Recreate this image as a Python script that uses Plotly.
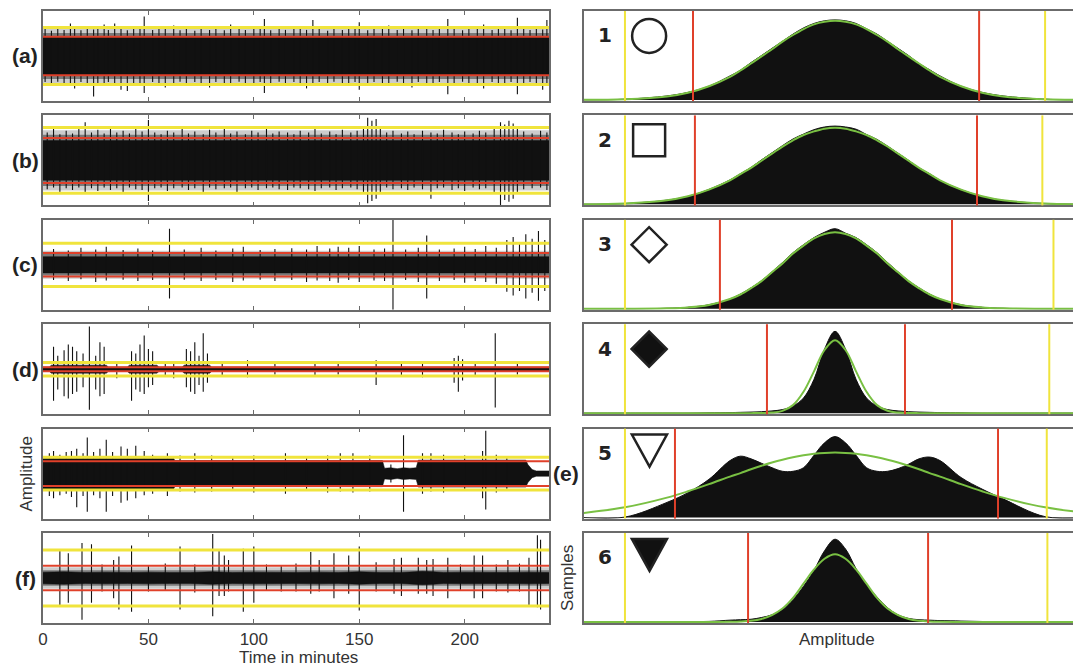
import plotly.graph_objects as go
from plotly.subplots import make_subplots

# ---------------- left column: amplitude traces (normalised, -1..1) ----------------
time_ticks = [0, 50, 100, 150, 200]
panel_letters = ["(a)", "(b)", "(c)", "(d)", "(e)", "(f)"]

red_lvl = [0.43, 0.50, 0.26, 0.045, 0.275, 0.27]
yellow_lvl = [0.635, 0.73, 0.48, 0.15, 0.365, 0.62]
fuzz_inner = [0.51, 0.57, 0.24, None, None, 0.17]
fuzz_outer = [0.61, 0.67, 0.31, None, None, 0.24]

a_band_t = [0, 240]
a_band_hi = [0.42, 0.42]
a_spk_t = [1, 4, 7, 10, 13, 15, 18, 21, 24, 26,
           29, 31, 34, 37, 40, 43, 46, 48, 52, 55,
           58, 62, 65, 68, 72, 75, 79, 82, 86, 89,
           93, 96, 100, 103, 105, 108, 112, 115, 119, 122,
           125, 128, 131, 135, 138, 142, 145, 148, 150, 154,
           157, 161, 164, 168, 171, 175, 178, 182, 185, 188,
           192, 195, 199, 202, 206, 209, 213, 216, 219, 222,
           225, 228, 231, 234, 237, 239]
a_spk_hi = [0.60, 0.56, 0.64, 0.58, 0.72, 0.60, 0.57, 0.66, 0.59, 0.62,
            0.70, 0.58, 0.72, 0.60, 0.57, 0.63, 0.60, 0.88, 0.58, 0.62,
            0.60, 0.68, 0.57, 0.61, 0.56, 0.63, 0.58, 0.60, 0.57, 0.70,
            0.60, 0.58, 0.62, 0.60, 0.82, 0.57, 0.61, 0.58, 0.63, 0.60,
            0.58, 0.80, 0.60, 0.56, 0.62, 0.58, 0.60, 0.64, 0.75, 0.57,
            0.60, 0.62, 0.68, 0.58, 0.60, 0.57, 0.62, 0.60, 0.58, 0.63,
            0.82, 0.60, 0.57, 0.62, 0.60, 0.70, 0.58, 0.60, 0.62, 0.57,
            0.85, 0.60, 0.58, 0.62, 0.59, 0.80]
a_spk_lo = [-0.58, -0.62, -0.57, -0.66, -0.60, -0.72, -0.58, -0.64, -0.90, -0.60,
            -0.62, -0.58, -0.60, -0.75, -0.78, -0.60, -0.62, -0.82, -0.58, -0.64,
            -0.70, -0.60, -0.57, -0.62, -0.58, -0.60, -0.70, -0.58, -0.62, -0.60,
            -0.57, -0.60, -0.62, -0.58, -0.82, -0.60, -0.57, -0.61, -0.58, -0.63,
            -0.72, -0.60, -0.58, -0.62, -0.57, -0.60, -0.64, -0.58, -0.75, -0.60,
            -0.58, -0.62, -0.60, -0.57, -0.63, -0.70, -0.58, -0.60, -0.62, -0.58,
            -0.85, -0.60, -0.57, -0.62, -0.60, -0.72, -0.58, -0.60, -0.63, -0.58,
            -0.85, -0.60, -0.58, -0.62, -0.75, -0.60]

b_band_t = [0, 240]
b_band_hi = [0.44, 0.44]
b_spk_t = [2, 5, 8, 11, 14, 17, 20, 23, 26, 29,
           32, 35, 38, 41, 44, 47, 50, 53, 56, 59,
           62, 66, 69, 72, 76, 79, 82, 86, 89, 92,
           96, 99, 102, 106, 109, 112, 116, 119, 122, 126,
           129, 132, 136, 139, 142, 146, 149, 152, 154, 156,
           158, 160, 163, 166, 170, 173, 176, 180, 184, 187,
           190, 194, 197, 200, 204, 207, 210, 214, 217, 219,
           221, 223, 225, 228, 232, 236, 239]
b_spk_hi = [0.62, 0.70, 0.58, 0.66, 0.60, 0.72, 0.85, 0.62, 0.68, 0.60,
            0.74, 0.62, 0.66, 0.60, 0.70, 0.64, 0.90, 0.62, 0.58, 0.66,
            0.62, 0.70, 0.60, 0.64, 0.58, 0.68, 0.62, 0.72, 0.60, 0.64,
            0.58, 0.66, 0.62, 0.70, 0.60, 0.64, 0.62, 0.58, 0.66, 0.62,
            0.72, 0.60, 0.64, 0.58, 0.68, 0.62, 0.66, 0.70, 0.95, 0.88,
            0.92, 0.74, 0.62, 0.66, 0.60, 0.64, 0.58, 0.66, 0.62, 0.60,
            0.68, 0.62, 0.58, 0.64, 0.60, 0.66, 0.62, 0.70, 0.85, 0.80,
            0.88, 0.82, 0.75, 0.64, 0.60, 0.66, 0.62]
b_spk_lo = [-0.64, -0.60, -0.70, -0.62, -0.66, -0.60, -0.74, -0.62, -0.68, -0.60,
            -0.66, -0.62, -0.72, -0.60, -0.64, -0.66, -0.90, -0.62, -0.60, -0.68,
            -0.62, -0.60, -0.66, -0.62, -0.70, -0.60, -0.64, -0.62, -0.60, -0.72,
            -0.62, -0.60, -0.66, -0.62, -0.60, -0.64, -0.66, -0.60, -0.62, -0.64,
            -0.68, -0.62, -0.60, -0.66, -0.62, -0.60, -0.64, -0.70, -0.95, -0.90,
            -0.85, -0.72, -0.60, -0.64, -0.62, -0.66, -0.60, -0.64, -0.85, -0.62,
            -0.60, -0.66, -0.62, -0.68, -0.60, -0.64, -0.62, -0.70, -1.00, -0.88,
            -0.92, -0.85, -0.74, -0.64, -0.62, -0.60, -0.66]

c_band_t = [0, 240]
c_band_hi = [0.18, 0.18]
c_spk_t = [5, 12, 18, 25, 30, 38, 45, 52, 60, 67,
           75, 82, 90, 95, 103, 110, 118, 125, 130, 136,
           140, 145, 150, 157, 162, 166, 172, 178, 182, 188,
           195, 200, 205, 210, 215, 220, 223, 226, 229, 232,
           235, 238]
c_spk_hi = [0.35, 0.32, 0.38, 0.34, 0.40, 0.33, 0.36, 0.32, 0.80, 0.34,
            0.38, 0.32, 0.36, 0.40, 0.33, 0.35, 0.37, 0.34, 0.42, 0.36,
            0.40, 0.38, 0.42, 0.34, 0.36, 1.00, 0.34, 0.38, 0.65, 0.34,
            0.36, 0.40, 0.35, 0.42, 0.38, 0.55, 0.62, 0.50, 0.68, 0.58,
            0.75, 0.55]
c_spk_lo = [-0.34, -0.36, -0.32, -0.38, -0.35, -0.33, -0.36, -0.34, -0.75, -0.33,
            -0.36, -0.34, -0.38, -0.35, -0.33, -0.36, -0.34, -0.38, -0.35, -0.36,
            -0.40, -0.34, -0.38, -0.35, -0.36, -1.00, -0.34, -0.38, -0.75, -0.36,
            -0.34, -0.40, -0.36, -0.38, -0.42, -0.60, -0.68, -0.58, -0.75, -0.62,
            -0.80, -0.58]

d_band_t = [0, 3, 4, 30, 31, 40, 41, 54, 55, 66, 67, 79, 80, 240]
d_band_hi = [0.05, 0.05, 0.09, 0.09, 0.05, 0.05, 0.09, 0.09, 0.05, 0.05, 0.09, 0.09, 0.05, 0.05]
d_spk_t = [5, 7, 10, 12, 14, 16, 19, 22, 25, 27,
           29, 35, 42, 44, 46, 48, 50, 52, 58, 62,
           68, 70, 72, 74, 76, 78, 85, 97, 110, 129,
           140, 158, 170, 180, 195, 197, 199, 205, 214.5, 225]
d_spk_hi = [0.50, 0.30, 0.42, 0.55, 0.50, 0.40, 0.35, 0.95, 0.30, 0.60,
            0.50, 0.18, 0.40, 0.35, 0.55, 0.75, 0.45, 0.40, 0.15, 0.18,
            0.45, 0.40, 0.60, 0.30, 0.80, 0.35, 0.15, 0.20, 0.12, 0.18,
            0.12, 0.20, 0.15, 0.18, 0.25, 0.30, 0.22, 0.15, 0.80, 0.12]
d_spk_lo = [-0.70, -0.45, -0.60, -0.65, -0.55, -0.50, -0.40, -0.90, -0.45, -0.60,
            -0.55, -0.20, -0.70, -0.45, -0.50, -0.55, -0.40, -0.35, -0.15, -0.20,
            -0.40, -0.50, -0.55, -0.35, -0.50, -0.30, -0.15, -0.18, -0.12, -0.15,
            -0.12, -0.35, -0.15, -0.18, -0.30, -0.50, -0.25, -0.15, -0.85, -0.12]

e_band_t = [0, 62, 62.5, 161, 162, 165, 168, 171, 174, 177, 178, 229, 230, 232, 234, 240]
e_band_hi = [0.34, 0.34, 0.29, 0.29, 0.12, 0.13, 0.11, 0.13, 0.12, 0.13, 0.30, 0.30, 0.20, 0.09, 0.06, 0.06]
e_spk_t = [3, 5, 8, 11, 13.5, 16, 19, 21, 24, 27,
           30, 33, 37, 40, 44, 48, 52, 59, 65, 72,
           80, 90, 100, 115, 125, 135, 141, 147, 155, 165,
           171, 180, 184, 190, 200, 208.5, 210, 215, 220]
e_spk_hi = [0.45, 0.50, 0.42, 0.48, 0.50, 0.55, 0.45, 0.80, 0.48, 0.55,
            0.75, 0.48, 0.60, 0.55, 0.62, 0.50, 0.42, 0.45, 0.40, 0.45,
            0.40, 0.38, 0.40, 0.45, 0.38, 0.40, 0.45, 0.45, 0.40, 0.20,
            0.85, 0.45, 0.45, 0.42, 0.40, 0.50, 0.95, 0.42, 0.38]
e_spk_lo = [-0.50, -0.55, -0.48, -0.45, -0.52, -0.75, -0.50, -0.85, -0.48, -0.55,
            -0.85, -0.50, -0.65, -0.60, -0.55, -0.48, -0.45, -0.50, -0.40, -0.42,
            -0.40, -0.38, -0.42, -0.45, -0.38, -0.42, -0.40, -0.42, -0.40, -0.20,
            -0.85, -0.45, -0.40, -0.42, -0.38, -0.55, -0.80, -0.42, -0.38]

f_band_t = [0, 10, 20, 30, 40, 50, 60, 70, 80, 90, 100, 110, 120, 130, 140, 150, 160, 170,
            180, 185, 190, 200, 210, 220, 230, 240]
f_band_hi = [0.13, 0.14, 0.12, 0.13, 0.12, 0.13, 0.12, 0.12, 0.14, 0.12, 0.13, 0.12, 0.12,
             0.13, 0.12, 0.14, 0.12, 0.12, 0.15, 0.14, 0.12, 0.13, 0.12, 0.12, 0.13, 0.12]
f_spk_t = [8, 12, 18.5, 23, 28, 33.5, 36, 42, 50, 58,
           65, 72, 80.5, 83.5, 86, 88, 95, 100, 106, 113,
           120, 127, 131, 138, 145, 150, 158, 166.5, 170, 178,
           182, 185, 192, 198, 204.5, 208.5, 215, 220.5, 226, 230.5,
           234.5, 236]
f_spk_hi = [0.62, 0.55, 0.78, 0.75, 0.30, 0.40, 0.48, 0.72, 0.28, 0.32,
            0.70, 0.30, 0.98, 0.60, 0.50, 0.40, 0.65, 0.70, 0.30, 0.28,
            0.32, 0.58, 0.40, 0.55, 0.50, 0.70, 0.35, 0.42, 0.45, 0.45,
            0.40, 0.42, 0.45, 0.30, 0.50, 0.50, 0.30, 0.40, 0.32, 0.45,
            0.95, 0.85]
f_spk_lo = [-0.60, -0.55, -0.93, -0.55, -0.30, -0.45, -0.70, -0.75, -0.30, -0.28,
            -0.70, -0.32, -0.85, -0.40, -0.40, -0.30, -0.75, -0.55, -0.28, -0.30,
            -0.30, -0.35, -0.30, -0.45, -0.35, -0.72, -0.30, -0.35, -0.40, -0.35,
            -0.35, -0.40, -0.45, -0.28, -0.45, -0.45, -0.30, -0.32, -0.30, -0.60,
            -0.65, -0.70]

# ---------------- right column: amplitude histograms (relative counts) ----------------
amp = [-1.2, -1.0, -0.8, -0.7, -0.6,
       -0.5, -0.45, -0.4, -0.35, -0.3, -0.25, -0.2, -0.15, -0.1, -0.05, 0.0,
       0.05, 0.1, 0.15, 0.2, 0.25, 0.3, 0.35, 0.4, 0.45, 0.5,
       0.6, 0.7, 0.8, 1.0, 1.2]

hist1 = [.001, .008, .045, .085, .155, .27, .335, .42, .50, .58, .66, .74, .81, .86, .89, .90,
         .89, .86, .80, .74, .66, .58, .50, .41, .34, .27, .155, .085, .045, .008, .001]
fit1 = [.001, .008, .039, .081, .154, .26, .331, .41, .489, .57, .656, .73, .797, .85, .879, .89,
        .879, .85, .797, .73, .656, .57, .489, .41, .331, .26, .154, .081, .039, .008, .001]
hist2 = [.001, .009, .047, .09, .168, .275, .345, .415, .50, .58, .66, .735, .79, .84, .87, .88,
         .87, .845, .785, .73, .655, .575, .495, .41, .345, .27, .165, .09, .045, .009, .001]
fit2 = [.001, .009, .045, .09, .165, .27, .34, .41, .49, .57, .65, .72, .78, .82, .85, .86,
        .85, .82, .78, .72, .65, .57, .49, .41, .34, .27, .165, .09, .045, .009, .001]
hist3 = [0, 0, .005, .016, .045, .11, .165, .235, .315, .415, .52, .63, .72, .80, .86, .90,
         .85, .80, .72, .63, .52, .415, .315, .235, .165, .11, .045, .016, .005, 0, 0]
fit3 = [0, 0, .005, .015, .043, .11, .16, .23, .31, .41, .51, .62, .71, .79, .84, .86,
        .84, .79, .71, .62, .51, .41, .31, .23, .16, .11, .043, .015, .005, 0, 0]
hist4 = [0, 0, 0, 0, .003, .006, .009, .012, .016, .025, .04, .08, .17, .38, .72, .92,
         .72, .38, .17, .08, .04, .025, .016, .012, .009, .006, .003, 0, 0, 0, 0]
fit4 = [0, 0, 0, 0, 0, 0, 0, 0, .001, .006, .026, .09, .24, .47, .71, .82,
        .71, .47, .24, .09, .026, .006, .001, 0, 0, 0, 0, 0, 0, 0, 0]
hist5 = [0, .005, .17, .28, .43, .64, .69, .66, .61, .56, .52, .52, .56, .70, .84, .91,
         .84, .70, .56, .52, .52, .55, .60, .66, .68, .64, .45, .32, .21, .01, 0]
fit5 = [.051, .115, .224, .295, .375, .46, .50, .543, .582, .618, .65, .678, .70, .717, .727, .73,
        .727, .717, .70, .678, .65, .618, .582, .543, .50, .46, .375, .295, .224, .115, .051]
hist6 = [0, 0, 0, .003, .006, .02, .025, .03, .05, .08, .14, .25, .40, .58, .80, .93,
         .82, .60, .42, .28, .16, .08, .04, .025, .02, .015, .01, .005, 0, 0, 0]
fit6 = [0, 0, 0, 0, 0, .002, .005, .013, .033, .077, .15, .27, .43, .59, .71, .76,
        .71, .59, .43, .27, .15, .077, .033, .013, .005, .002, 0, 0, 0, 0, 0]

red_left = [-0.676, -0.667, -0.548, -0.324, -0.762, -0.414]
red_right = [0.686, 0.676, 0.557, 0.333, 0.776, 0.443]
yellow_left = [-1.0, -1.0, -1.0, -1.0, -1.0, -1.0]
yellow_right = [1.0, 0.987, 1.04, 1.02, 1.008, 1.011]

hist_labels = ["1", "2", "3", "4", "5", "6"]
hist_symbols = ["circle-open", "square-open", "diamond-open", "diamond", "tri-open", "tri"]
symbol_sizes = [34, 32, 27, 27, 0, 0]

# ---------------- styling ----------------
FONT = "Liberation Sans, Arial, sans-serif"
BLACK = "#111111"
RED = "#e0402a"
YELLOW = "#f0e43c"
GREEN = "#79c043"
FRAME = "#6b6b6b"

# the page adds an 8px body margin, so the figure is made 8px smaller and shifted
OFF = 8
W, H = 1081 - OFF, 668 - OFF
ML, MR, MT, MB = 43 - OFF, 0, 11 - OFF, 45
PW, PH = W - ML - MR, H - MT - MB
X0, Y1 = 43, 623  # plot area (page pixels): left edge, bottom edge


def axref(n, letter, domain=True):
    s = "%s%s" % (letter, "" if n == 1 else n)
    return s + " domain" if domain else s


def px(xpage):
    return (xpage - X0) / PW


def py(ypage):
    return (Y1 - ypage) / PH


def label(text, xref, yref, x, y, size=17, color="#333333", family=FONT, angle=0):
    fig.add_annotation(text=text, xref=xref, yref=yref, x=x, y=y, xanchor="center",
                       yanchor="middle", textangle=angle, showarrow=False,
                       font=dict(family=family, size=size, color=color))


fig = make_subplots(rows=6, cols=2, column_widths=[506, 497],
                    horizontal_spacing=35 / PW, vertical_spacing=14.4 / PH)

left_panels = [
    (a_band_t, a_band_hi, a_spk_t, a_spk_hi, a_spk_lo),
    (b_band_t, b_band_hi, b_spk_t, b_spk_hi, b_spk_lo),
    (c_band_t, c_band_hi, c_spk_t, c_spk_hi, c_spk_lo),
    (d_band_t, d_band_hi, d_spk_t, d_spk_hi, d_spk_lo),
    (e_band_t, e_band_hi, e_spk_t, e_spk_hi, e_spk_lo),
    (f_band_t, f_band_hi, f_spk_t, f_spk_hi, f_spk_lo),
]
hists = [hist1, hist2, hist3, hist4, hist5, hist6]
fits = [fit1, fit2, fit3, fit4, fit5, fit6]

quiet = dict(showlegend=False, hoverinfo="skip")


def add_band(t, hi, color, row):
    lw = 0.5 if color == BLACK else 0
    fig.add_trace(go.Scatter(x=t, y=[-v for v in hi], mode="lines",
                             line=dict(width=lw, color=color), **quiet), row=row, col=1)
    fig.add_trace(go.Scatter(x=t, y=hi, mode="lines", line=dict(width=lw, color=color),
                             fill="tonexty", fillcolor=color, **quiet), row=row, col=1)


for i, (band_t, band_hi, st, sh, sl) in enumerate(left_panels):
    row = i + 1
    if fuzz_outer[i]:
        add_band([0, 240], [fuzz_outer[i], fuzz_outer[i]], "rgba(0,0,0,0.2)", row)
        add_band([0, 240], [fuzz_inner[i], fuzz_inner[i]], "rgba(0,0,0,0.4)", row)
    add_band(band_t, band_hi, BLACK, row)
    xs, ys = [], []
    for t, hi, lo in zip(st, sh, sl):
        xs += [t, t, None]
        ys += [lo, hi, None]
    fig.add_trace(go.Scatter(x=xs, y=ys, mode="lines", line=dict(color=BLACK, width=1.1),
                             **quiet), row=row, col=1)
    for lvl, col, w in ((yellow_lvl[i], YELLOW, 3), (red_lvl[i], RED, 2)):
        for s in (1, -1):
            fig.add_hline(y=s * lvl, line_color=col, line_width=w, row=row, col=1)

    fig.update_xaxes(row=row, col=1, range=[0, 240], tickvals=time_ticks, ticks="inside",
                     ticklen=4, tickcolor=FRAME, showticklabels=(row == 6),
                     showline=True, linecolor=FRAME, linewidth=1.5, mirror="ticks",
                     showgrid=False, zeroline=False,
                     tickfont=dict(size=17, color="#333333"))
    fig.update_yaxes(row=row, col=1, range=[-1, 1], showticklabels=False, ticks="",
                     showline=True, linecolor=FRAME, linewidth=1.5, mirror=True,
                     showgrid=False, zeroline=False)

for i in range(6):
    row = i + 1
    n = 2 * row
    fig.add_trace(go.Scatter(x=amp, y=hists[i], mode="lines",
                             line=dict(color=BLACK, width=1, shape="spline"),
                             fill="tozeroy", fillcolor=BLACK, **quiet), row=row, col=2)
    fig.add_trace(go.Scatter(x=amp, y=fits[i], mode="lines",
                             line=dict(color=GREEN, width=2, shape="spline"), **quiet),
                  row=row, col=2)
    for xv, col in ((yellow_left[i], YELLOW), (yellow_right[i], YELLOW),
                    (red_left[i], RED), (red_right[i], RED)):
        fig.add_vline(x=xv, line_color=col, line_width=2, row=row, col=2)

    sym = hist_symbols[i]
    if sym.startswith("tri"):
        # plotly's triangle marker is squat, draw an equilateral one instead
        fig.add_shape(type="path", xref=axref(n, "x", False), yref=axref(n, "y", False),
                      path="M -0.967,0.933 L -0.80,0.933 L -0.883,0.573 Z",
                      line=dict(color="#222222", width=2.5),
                      fillcolor=BLACK if sym == "tri" else "rgba(0,0,0,0)")
    else:
        filled = not sym.endswith("open")
        fig.add_trace(go.Scatter(x=[-0.885], y=[0.72], mode="markers",
                                 marker=dict(symbol=sym, size=symbol_sizes[i],
                                             color=BLACK if filled else "#222222",
                                             line=dict(width=2.5, color="#222222")),
                                 **quiet), row=row, col=2)
    label("<b>%s</b>" % hist_labels[i], axref(n, "x"), axref(n, "y"), 0.042, 0.73,
          size=20, color="#222222", family="DejaVu Sans")
    fig.update_xaxes(row=row, col=2, range=[-1.195, 1.171], showticklabels=False, ticks="",
                     showline=True, linecolor=FRAME, linewidth=1.5, mirror=True,
                     showgrid=False, zeroline=False)
    fig.update_yaxes(row=row, col=2, range=[-0.012, 1.0], showticklabels=False, ticks="",
                     showline=True, linecolor=FRAME, linewidth=1.5, mirror=False,
                     showgrid=False, zeroline=False)

# panel letters
for i, lab in enumerate(panel_letters):
    xp = px(566) if lab == "(e)" else px(25)
    label("<b>%s</b>" % lab, "paper", axref(2 * i + 1, "y"), xp, 0.5, size=21, color="#222222")

label("Amplitude", "paper", axref(9, "y"), px(27), 0.5, angle=-90)
label("Samples", "paper", axref(12, "y"), px(567), 0.5, angle=-90)
label("Amplitude", "paper", "paper", px(837), py(640))
label("Time in minutes", "paper", "paper", px(298), py(657))

fig.update_layout(width=W, height=H, margin=dict(l=ML, r=MR, t=MT, b=MB),
                  plot_bgcolor="white", paper_bgcolor="white", showlegend=False,
                  font=dict(family=FONT, color="#333333"))

fig.write_html("out.html")
